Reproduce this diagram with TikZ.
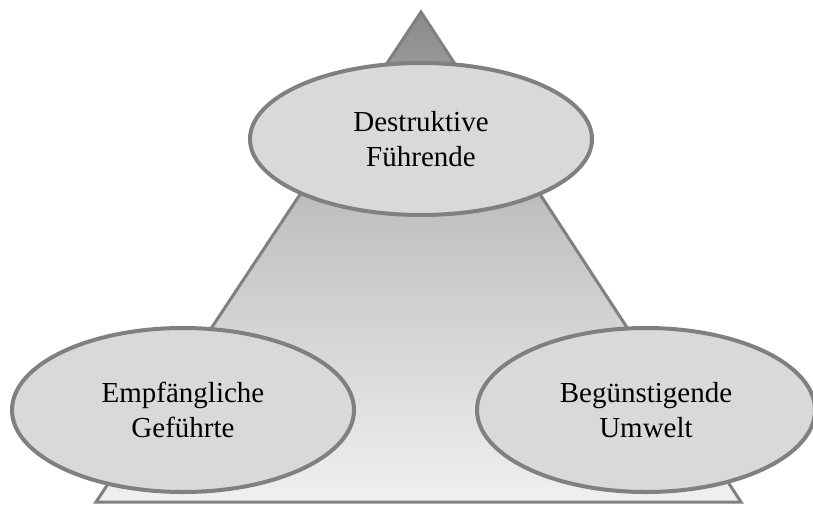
\documentclass[tikz,border=0pt]{standalone}
\usepackage{fontspec}
\setmainfont{Liberation Serif}
\usetikzlibrary{shapes.geometric}
\definecolor{edgegray}{HTML}{808080}
\definecolor{ovalfill}{HTML}{D9D9D9}
\definecolor{shadetop}{HTML}{8A8A8A}
\definecolor{shademid}{HTML}{C2C2C2}
\definecolor{shadebottom}{HTML}{F0F0F0}
% light at the base, dark at the tip
\pgfdeclareverticalshading{pyramidshade}{100bp}{%
  color(0bp)=(shadebottom); color(25bp)=(shadebottom);
  color(54bp)=(shademid);
  color(75bp)=(shadetop); color(100bp)=(shadetop)}
\tikzset{
  oval/.style={ellipse, draw=edgegray, line width=4pt, fill=ovalfill,
    inner sep=0pt, align=center,
    font=\fontsize{29}{35}\selectfont},
  pyramid/.style={draw=edgegray, line width=3pt, line join=miter,
    shading=pyramidshade}
}
\begin{document}
\begin{tikzpicture}[x=1pt, y=-1pt]
  \useasboundingbox (0,0) rectangle (813,506);
  % triangle behind the three ovals
  \coordinate (apex) at (421,12);
  \coordinate (bl) at (96,502);
  \coordinate (br) at (741,502);
  \path[pyramid] (apex) -- (bl) -- (br) -- cycle;
  % the three ovals
  \node[oval, minimum width=342pt, minimum height=152pt] (lead) at (421,139)
    {Destruktive\\Führende};
  \node[oval, minimum width=342pt, minimum height=164pt] (follow) at (183,410)
    {Empfängliche\\Geführte};
  \node[oval, minimum width=338pt, minimum height=164pt] (env) at (646,410)
    {Begünstigende\\Umwelt};
\end{tikzpicture}
\end{document}
